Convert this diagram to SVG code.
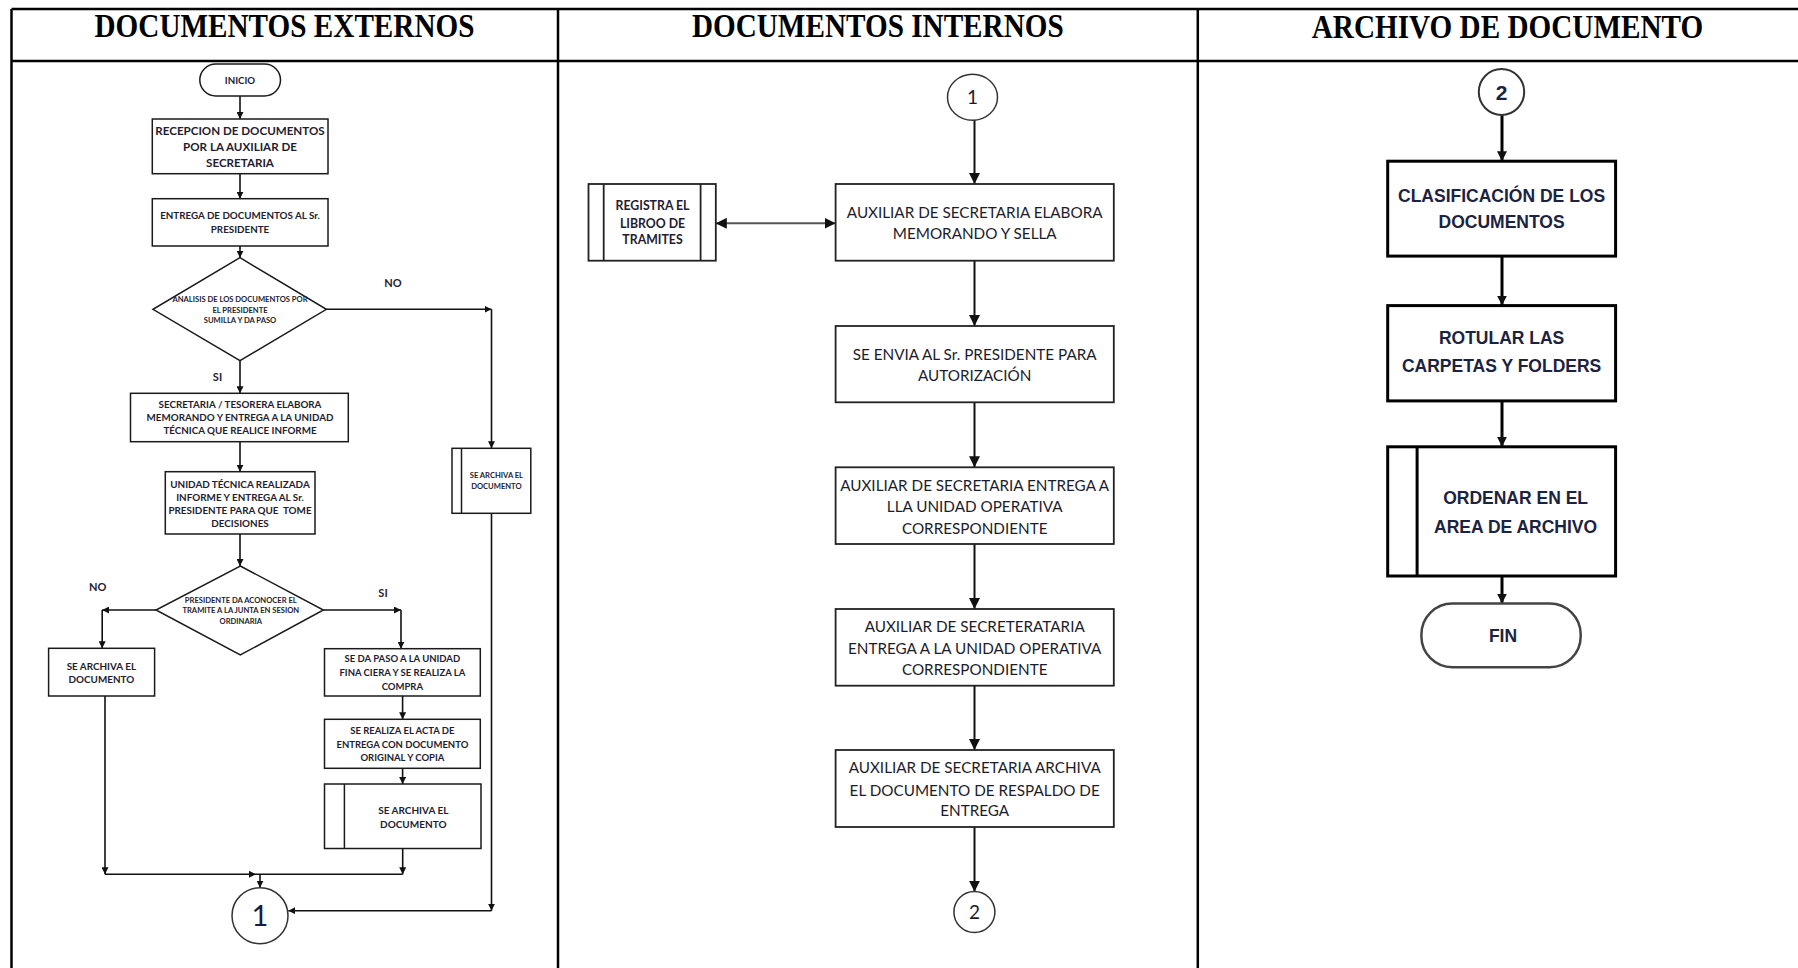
<svg xmlns="http://www.w3.org/2000/svg" width="1798" height="968" viewBox="0 0 1798 968">
<defs>
<marker id="a1" markerUnits="userSpaceOnUse" markerWidth="7" markerHeight="7" refX="7" refY="3.5" orient="auto"><path d="M0,0 L7,3.5 L0,7 z" fill="#111"/></marker>
<marker id="a2" markerUnits="userSpaceOnUse" markerWidth="11" markerHeight="11" refX="11" refY="5.5" orient="auto-start-reverse"><path d="M0,0 L11,5.5 L0,11 z" fill="#111"/></marker>
<marker id="a3" markerUnits="userSpaceOnUse" markerWidth="10" markerHeight="10" refX="10" refY="5" orient="auto"><path d="M0,0 L10,5 L0,10 z" fill="#111"/></marker>
</defs>
<style>
.grid{stroke:#000;stroke-width:2.5;fill:none}
.title{font-family:"Liberation Serif","Times New Roman",serif;font-weight:bold;font-size:29.2px;fill:#000;text-anchor:middle}
.b1{fill:#fff;stroke:#1a1a1a;stroke-width:1.5}
.b2{fill:#fff;stroke:#222;stroke-width:1.8}
.b3{fill:#fff;stroke:#000;stroke-width:3}
.t1{font-family:Lato,"Liberation Sans",sans-serif;font-weight:bold;fill:#241c30;text-anchor:middle}
.t2{font-family:Lato,"Liberation Sans",sans-serif;font-size:15.25px;fill:#1c1c2c;text-anchor:middle}
.t3{font-family:"Liberation Sans",Arial,sans-serif;font-weight:bold;font-size:17.5px;fill:#1c2340;text-anchor:middle}
.c1{stroke:#111;stroke-width:1.6;fill:none}
.c2{stroke:#111;stroke-width:2;fill:none}
.c3{stroke:#000;stroke-width:3;fill:none}
</style>
<rect width="1798" height="968" fill="#fff"/>
<g id="table">
<line class="grid" x1="11.5" y1="9" x2="1798" y2="9"/>
<line class="grid" x1="11.5" y1="61" x2="1798" y2="61"/>
<line class="grid" x1="11.5" y1="9" x2="11.5" y2="968"/>
<line class="grid" x1="558" y1="9" x2="558" y2="968"/>
<line class="grid" x1="1197.8" y1="9" x2="1197.8" y2="968"/>
<text class="title" transform="translate(284.5,36.8) scale(1,1.12)">DOCUMENTOS EXTERNOS</text>
<text class="title" transform="translate(877.8,36.8) scale(1,1.12)">DOCUMENTOS INTERNOS</text>
<text class="title" transform="translate(1507.5,37.5) scale(1,1.12)">ARCHIVO DE DOCUMENTO</text>
</g>
<g id="connectors">
<line class="c1" x1="240" y1="96" x2="240" y2="119" marker-end="url(#a1)"/>
<line class="c1" x1="240" y1="173.7" x2="240" y2="198.7" marker-end="url(#a1)"/>
<line class="c1" x1="240" y1="246" x2="240" y2="257.7" marker-end="url(#a1)"/>
<line class="c1" x1="326.4" y1="309.3" x2="491.5" y2="309.3" marker-end="url(#a1)"/>
<line class="c1" x1="491.5" y1="309.3" x2="491.5" y2="448.3" marker-end="url(#a1)"/>
<line class="c1" x1="240" y1="360.7" x2="240" y2="393.3" marker-end="url(#a1)"/>
<line class="c1" x1="240" y1="441.7" x2="240" y2="471.7" marker-end="url(#a1)"/>
<line class="c1" x1="240" y1="534" x2="240" y2="566" marker-end="url(#a1)"/>
<line class="c1" x1="156" y1="610" x2="102.2" y2="610" marker-end="url(#a1)"/>
<line class="c1" x1="102.2" y1="610" x2="102.2" y2="648.3" marker-end="url(#a1)"/>
<line class="c1" x1="323.4" y1="610" x2="401" y2="610" marker-end="url(#a1)"/>
<line class="c1" x1="401" y1="610" x2="401" y2="648.7" marker-end="url(#a1)"/>
<line class="c1" x1="402.6" y1="696" x2="402.6" y2="719.3" marker-end="url(#a1)"/>
<line class="c1" x1="402.6" y1="768.3" x2="402.6" y2="784" marker-end="url(#a1)"/>
<line class="c1" x1="105" y1="696" x2="105" y2="874.3" marker-end="url(#a1)"/>
<line class="c1" x1="402.7" y1="848.5" x2="402.7" y2="874.3" marker-end="url(#a1)"/>
<line class="c1" x1="105" y1="874.3" x2="256" y2="874.3" marker-end="url(#a1)"/>
<line class="c1" x1="256" y1="874.3" x2="402.7" y2="874.3"/>
<line class="c1" x1="260" y1="874.3" x2="260" y2="887.7" marker-end="url(#a1)"/>
<line class="c1" x1="491.5" y1="513.3" x2="491.5" y2="910.7" marker-end="url(#a1)"/>
<line class="c1" x1="491.5" y1="910.7" x2="288.3" y2="910.7" marker-end="url(#a1)"/>
<line class="c2" x1="974.5" y1="120" x2="974.5" y2="184" marker-end="url(#a2)"/>
<line class="c2" x1="974.5" y1="260.7" x2="974.5" y2="326" marker-end="url(#a2)"/>
<line class="c2" x1="974.5" y1="402.3" x2="974.5" y2="467.3" marker-end="url(#a2)"/>
<line class="c2" x1="974.5" y1="544" x2="974.5" y2="609" marker-end="url(#a2)"/>
<line class="c2" x1="974.5" y1="685.7" x2="974.5" y2="750" marker-end="url(#a2)"/>
<line class="c2" x1="974.5" y1="827" x2="974.5" y2="891.7" marker-end="url(#a2)"/>
<line x1="715.8" y1="223.3" x2="835.6" y2="223.3" stroke="#555" stroke-width="2" marker-start="url(#a2)" marker-end="url(#a2)"/>
<line class="c3" x1="1502" y1="115" x2="1502" y2="161.2" marker-end="url(#a3)"/>
<line class="c3" x1="1502" y1="256.1" x2="1502" y2="305.6" marker-end="url(#a3)"/>
<line class="c3" x1="1502" y1="400.9" x2="1502" y2="446.8" marker-end="url(#a3)"/>
<line class="c3" x1="1502" y1="576" x2="1502" y2="603.6" marker-end="url(#a3)"/>
</g>
<g id="inicio">
<rect class="b1" x="199.8" y="64" width="80.7" height="32" rx="16"/>
<text class="t1" font-size="9.7" x="240" y="83.5">INICIO</text>
</g>
<g id="recepcion">
<rect class="b1" x="152.3" y="119" width="175.7" height="54.7"/>
<text class="t1" font-size="11.6" x="240"><tspan x="240" y="135.2">RECEPCION DE DOCUMENTOS</tspan><tspan x="240" y="150.8">POR LA AUXILIAR DE</tspan><tspan x="240" y="167.4">SECRETARIA</tspan></text>
</g>
<g id="entrega-presidente">
<rect class="b1" x="152.3" y="198.7" width="175.7" height="47.3"/>
<text class="t1" font-size="9.8"><tspan x="240" y="218.6">ENTREGA DE DOCUMENTOS AL Sr.</tspan><tspan x="240" y="232.9">PRESIDENTE</tspan></text>
</g>
<g id="analisis">
<polygon class="b1" points="240,257.7 326.4,309.3 240,360.7 153,309.3"/>
<text class="t1" font-size="7.6"><tspan x="240" y="301.7">ANALISIS DE LOS DOCUMENTOS POR</tspan><tspan x="240" y="312.7">EL PRESIDENTE</tspan><tspan x="240" y="323.4">SUMILLA Y DA PASO</tspan></text>
<text class="t1" font-size="11" x="393" y="287">NO</text>
<text class="t1" font-size="11" x="217.5" y="381">SI</text>
</g>
<g id="secretaria-tesorera">
<rect class="b1" x="130.5" y="393.3" width="217.8" height="48.4"/>
<text class="t1" font-size="9.8"><tspan x="240" y="407.5">SECRETARIA / TESORERA ELABORA</tspan><tspan x="240" y="421.2">MEMORANDO Y ENTREGA A LA UNIDAD</tspan><tspan x="240" y="434.2">TÉCNICA QUE REALICE INFORME</tspan></text>
</g>
<g id="unidad-tecnica">
<rect class="b1" x="165.3" y="471.7" width="149.7" height="62.3"/>
<text class="t1" font-size="9.9"><tspan x="240" y="487.6">UNIDAD TÉCNICA REALIZADA</tspan><tspan x="240" y="500.9">INFORME Y ENTREGA AL Sr.</tspan><tspan x="240" y="514.3" xml:space="preserve">PRESIDENTE PARA QUE  TOME</tspan><tspan x="240" y="526.9">DECISIONES</tspan></text>
</g>
<g id="archiva-no1">
<rect class="b1" x="452" y="448.3" width="78.8" height="65"/>
<line class="b1" x1="461.5" y1="448.3" x2="461.5" y2="513.3"/>
<text class="t1" font-size="7.6"><tspan x="496.4" y="477.7">SE ARCHIVA EL</tspan><tspan x="496.4" y="488.7">DOCUMENTO</tspan></text>
</g>
<g id="presidente-junta">
<polygon class="b1" points="240.3,566 323.4,610 240.3,655 156,610"/>
<text class="t1" font-size="7.6"><tspan x="240.8" y="602.7">PRESIDENTE DA ACONOCER EL</tspan><tspan x="240.8" y="613.4">TRAMITE A LA JUNTA EN SESION</tspan><tspan x="240.8" y="624.4">ORDINARIA</tspan></text>
<text class="t1" font-size="11" x="97.6" y="590.7">NO</text>
<text class="t1" font-size="11" x="383" y="597.3">SI</text>
</g>
<g id="archiva-no2">
<rect class="b1" x="48.6" y="648.3" width="106" height="47.7"/>
<text class="t1" font-size="9.9"><tspan x="101.4" y="670.3">SE ARCHIVA EL</tspan><tspan x="101.4" y="682.6">DOCUMENTO</tspan></text>
</g>
<g id="unidad-financiera">
<rect class="b1" x="324.5" y="648.7" width="155.8" height="47.3"/>
<text class="t1" font-size="9.5"><tspan x="402.4" y="662.4">SE DA PASO A LA UNIDAD</tspan><tspan x="402.4" y="676.1">FINA CIERA Y SE REALIZA LA</tspan><tspan x="402.4" y="690.1">COMPRA</tspan></text>
</g>
<g id="acta-entrega">
<rect class="b1" x="324.5" y="719.3" width="155.8" height="49"/>
<text class="t1" font-size="9.5"><tspan x="402.4" y="734.4">SE REALIZA EL ACTA DE</tspan><tspan x="402.4" y="748.4">ENTREGA CON DOCUMENTO</tspan><tspan x="402.4" y="761.1">ORIGINAL Y COPIA</tspan></text>
</g>
<g id="archiva-si">
<rect class="b1" x="324.5" y="784" width="156.5" height="64.5"/>
<line class="b1" x1="344.4" y1="784" x2="344.4" y2="848.5"/>
<text class="t1" font-size="10"><tspan x="413.3" y="813.6">SE ARCHIVA EL</tspan><tspan x="413.3" y="827.6">DOCUMENTO</tspan></text>
</g>
<g id="conector-1a">
<circle cx="260" cy="915.7" r="28" fill="#fff" stroke="#333" stroke-width="1.5"/>
<text font-family="Lato,'Liberation Sans',sans-serif" font-size="29" fill="#1b1b3a" text-anchor="middle" x="260" y="926">1</text>
</g>
<g id="conector-1b">
<ellipse cx="972.5" cy="97.3" rx="25" ry="23" fill="#fff" stroke="#333" stroke-width="1.5"/>
<text font-family="Lato,'Liberation Sans',sans-serif" font-size="19" fill="#1b1b2a" text-anchor="middle" x="972.5" y="104">1</text>
</g>
<g id="registra-libro">
<rect class="b2" x="588.5" y="184" width="127.3" height="76.7"/>
<line class="b2" x1="603.7" y1="184" x2="603.7" y2="260.7"/>
<line class="b2" x1="700.6" y1="184" x2="700.6" y2="260.7"/>
<text class="t1" font-size="12.3"><tspan x="652.5" y="210.4">REGISTRA EL</tspan><tspan x="652.5" y="227.7">LIBROO DE</tspan><tspan x="652.5" y="244.4">TRAMITES</tspan></text>
</g>
<g id="elabora-memorando">
<rect class="b2" x="835.6" y="184" width="278.2" height="76.7"/>
<text class="t2"><tspan x="974.7" y="218.2">AUXILIAR DE SECRETARIA ELABORA</tspan><tspan x="974.7" y="238.8">MEMORANDO Y SELLA</tspan></text>
</g>
<g id="envia-presidente">
<rect class="b2" x="835.6" y="326" width="278.2" height="76.3"/>
<text class="t2"><tspan x="974.7" y="359.5">SE ENVIA AL Sr. PRESIDENTE PARA</tspan><tspan x="974.7" y="380.5">AUTORIZACIÓN</tspan></text>
</g>
<g id="entrega-unidad-1">
<rect class="b2" x="835.6" y="467.3" width="278.2" height="76.7"/>
<text class="t2"><tspan x="974.7" y="490.5">AUXILIAR DE SECRETARIA ENTREGA A</tspan><tspan x="974.7" y="512.2">LLA UNIDAD OPERATIVA</tspan><tspan x="974.7" y="533.8">CORRESPONDIENTE</tspan></text>
</g>
<g id="entrega-unidad-2">
<rect class="b2" x="835.6" y="609" width="278.2" height="76.7"/>
<text class="t2"><tspan x="974.7" y="631.5">AUXILIAR DE SECRETERATARIA</tspan><tspan x="974.7" y="653.8">ENTREGA A LA UNIDAD OPERATIVA</tspan><tspan x="974.7" y="674.8">CORRESPONDIENTE</tspan></text>
</g>
<g id="archiva-respaldo">
<rect class="b2" x="835.6" y="750" width="278.2" height="77"/>
<text class="t2"><tspan x="974.7" y="772.8">AUXILIAR DE SECRETARIA ARCHIVA</tspan><tspan x="974.7" y="795.5">EL DOCUMENTO DE RESPALDO DE</tspan><tspan x="974.7" y="816.2">ENTREGA</tspan></text>
</g>
<g id="conector-2a">
<circle cx="974.4" cy="912" r="20.5" fill="#fff" stroke="#333" stroke-width="1.5"/>
<text font-family="Lato,'Liberation Sans',sans-serif" font-size="19" fill="#1b1b2a" text-anchor="middle" x="974.4" y="918.8">2</text>
</g>
<g id="conector-2b">
<ellipse cx="1501.5" cy="92" rx="22.7" ry="23" fill="#fff" stroke="#333" stroke-width="2"/>
<text font-family="'Liberation Sans',Arial,sans-serif" font-weight="bold" font-size="21" fill="#1c2340" text-anchor="middle" x="1501.5" y="99.5">2</text>
</g>
<g id="clasificacion">
<rect class="b3" x="1387.7" y="161.2" width="227.9" height="94.9"/>
<text class="t3"><tspan x="1501.6" y="202.3">CLASIFICACIÓN DE LOS</tspan><tspan x="1501.6" y="227.7">DOCUMENTOS</tspan></text>
</g>
<g id="rotular">
<rect class="b3" x="1387.7" y="305.6" width="227.9" height="95.3"/>
<text class="t3"><tspan x="1501.6" y="343.9">ROTULAR LAS</tspan><tspan x="1501.6" y="372.4">CARPETAS Y FOLDERS</tspan></text>
</g>
<g id="ordenar">
<rect class="b3" x="1387.7" y="446.8" width="227.9" height="129.2"/>
<line class="b3" x1="1417.1" y1="446.8" x2="1417.1" y2="576"/>
<text class="t3"><tspan x="1515.6" y="504.3">ORDENAR EN EL</tspan><tspan x="1515.6" y="532.8">AREA DE ARCHIVO</tspan></text>
</g>
<g id="fin">
<rect x="1421.4" y="603.6" width="159.3" height="63.7" rx="31" fill="#fff" stroke="#444" stroke-width="2.5"/>
<text class="t3" x="1503" y="642.3">FIN</text>
</g>
</svg>
